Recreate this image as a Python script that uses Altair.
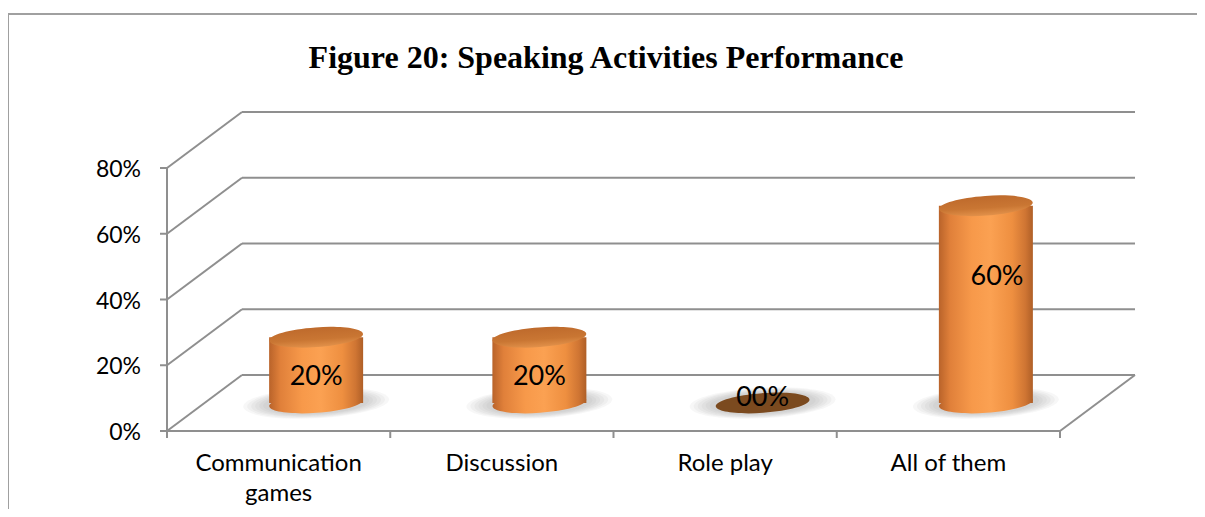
import altair as alt
import pandas as pd

# ---------------- data ----------------
categories = ["Communication games", "Discussion", "Role play", "All of them"]
category_text = ["Communication\ngames", "Discussion", "Role play", "All of them"]
values = [20, 20, 0, 60]
value_labels = ["20%", "20%", "00%", "60%"]
y_ticks = [0, 20, 40, 60, 80]
y_tick_labels = ["0%", "20%", "40%", "60%", "80%"]
title_text = "Figure 20: Speaking Activities Performance"

# ---------------- geometry (pixels -> data units) ----------------
W, H = 1189, 501
X0_PX, CAT_PX = 159, 223.25      # plot px of category origin, px per category
Y0_PX, PCT_PX = 423, 3.2875      # plot px of 0%, px per percent
DEPTH_DX, DEPTH_DY = 75, 56      # 3-D depth offset in px
CYL_W = 94                       # cylinder width px
ELL_RY = 0.21                    # ellipse aspect

x_dom = [-X0_PX / CAT_PX, (W - X0_PX) / CAT_PX]
y_dom = [-(H - Y0_PX) / PCT_PX, Y0_PX / PCT_PX]
ddx = DEPTH_DX / CAT_PX
ddy = DEPTH_DY / PCT_PX
n = len(categories)

xs = alt.Scale(domain=x_dom, nice=False, zero=False)
ys = alt.Scale(domain=y_dom, nice=False, zero=False)
X = lambda f: alt.X(f, type="quantitative", scale=xs, axis=None)
Y = lambda f: alt.Y(f, type="quantitative", scale=ys, axis=None)

GRID = "#8f8f8f"

# grid / frame lines
rows = []
for v in y_ticks:
    rows.append(dict(x=ddx, x2=n + ddx, y=v + ddy, y2=v + ddy))      # back wall line
    rows.append(dict(x=0, x2=ddx, y=v, y2=v + ddy))                  # side diagonal
    rows.append(dict(x=0, x2=-7 / CAT_PX, y=v, y2=v))                # y tick
rows.append(dict(x=0, x2=n, y=0, y2=0))                              # front floor edge
rows.append(dict(x=n, x2=n + ddx, y=0, y2=ddy))                      # right floor edge
rows.append(dict(x=0, x2=0, y=0, y2=y_ticks[-1]))                    # y axis
for i in range(n + 1):
    rows.append(dict(x=i, x2=i, y=0, y2=-7 / PCT_PX))                # x ticks
lines_df = pd.DataFrame(rows)

grid = alt.Chart(lines_df).mark_rule(color=GRID, strokeWidth=2).encode(
    x=X("x"), x2="x2", y=Y("y"), y2="y2"
)

# cylinders
hw = CYL_W / 2 / CAT_PX
cyl = pd.DataFrame({
    "cat": categories,
    "value": values,
    "label": value_labels,
    "cx": [i + 0.5 + ddx / 2 for i in range(n)],
})
cyl["base"] = ddy / 2
cyl["top"] = cyl["base"] + cyl["value"]
cyl["xl"] = cyl["cx"] - hw
cyl["xr"] = cyl["cx"] + hw
cyl["ly"] = [b + (1.2 + 0.76 * v - ddy / 2 if v > 0 else 1.6) for b, v in zip(cyl["base"], cyl["value"])]
cyl["lx"] = [c + (0.05 if v > 40 else 0.0) for c, v in zip(cyl["cx"], cyl["value"])]

k = 0.5523
r = ELL_RY
ellipse = (f"M -1 0 C -1 {-k*r} {-k} {-r} 0 {-r} C {k} {-r} 1 {-k*r} 1 0 "
           f"C 1 {k*r} {k} {r} 0 {r} C {-k} {r} -1 {k*r} -1 0 Z")

body_grad = alt.LinearGradient(
    gradient="linear", x1=0, x2=1, y1=0, y2=0,
    stops=[
        alt.GradientStop(color="#B9632A", offset=0),
        alt.GradientStop(color="#E0803A", offset=0.12),
        alt.GradientStop(color="#F7994A", offset=0.35),
        alt.GradientStop(color="#FBA152", offset=0.55),
        alt.GradientStop(color="#EE8F40", offset=0.78),
        alt.GradientStop(color="#CF7533", offset=0.92),
        alt.GradientStop(color="#AF5F27", offset=1),
    ],
)
top_grad = alt.LinearGradient(
    gradient="linear", x1=0, x2=0, y1=0, y2=1,
    stops=[
        alt.GradientStop(color="#BE6A2C", offset=0),
        alt.GradientStop(color="#C97633", offset=0.6),
        alt.GradientStop(color="#E2914A", offset=1),
    ],
)

base = alt.Chart(cyl)
shadows = []
for wpx in [146, 138, 130, 122, 114, 106]:
    shadows.append(
        base.mark_point(shape=ellipse, size=wpx * wpx, filled=True, fill="#707070",
                        opacity=0.06, strokeWidth=0, angle=357)
        .encode(x=X("cx"), y=Y("base"))
    )

pos = base.transform_filter("datum.value > 0")
bottom_ell = pos.mark_point(shape=ellipse, size=CYL_W * CYL_W, filled=True, fill=body_grad,
                            opacity=1, strokeWidth=0, angle=356).encode(x=X("cx"), y=Y("base"))
body = pos.mark_rect(fill=body_grad, strokeWidth=0).encode(
    x=X("xl"), x2="xr", y=Y("base"), y2="top")
top_ell = pos.mark_point(shape=ellipse, size=CYL_W * CYL_W, filled=True, fill=top_grad,
                         opacity=1, strokeWidth=0, angle=356).encode(x=X("cx"), y=Y("top"))
zero_ell = base.transform_filter("datum.value == 0").mark_point(
    shape=ellipse, size=CYL_W * CYL_W, filled=True, fill="#7B4A1F", opacity=1,
    strokeWidth=0, angle=356).encode(x=X("cx"), y=Y("top"))

labels = base.mark_text(font="Lato", fontSize=27, color="#000000", baseline="middle").encode(
    x=X("lx"), y=Y("ly"), text="label")

# axis labels
yt = pd.DataFrame({"v": y_ticks, "t": y_tick_labels, "x": 0})
ylab = alt.Chart(yt).mark_text(font="Lato", fontSize=23, align="right", baseline="middle",
                               dx=-26, dy=2, color="#000000").encode(
    x=X("x"), y=Y("v"), text="t")

ct = pd.DataFrame({"x": [i + 0.5 for i in range(n)], "y": 0, "t": category_text})
xlab = alt.Chart(ct).mark_text(font="Lato", fontSize=24, align="center", baseline="top",
                               dy=21, lineBreak="\n", lineHeight=30, color="#000000").encode(
    x=X("x"), y=Y("y"), text="t")

title = alt.Chart(pd.DataFrame({"t": [title_text]})).mark_text(
    font="Liberation Serif", fontSize=32, fontWeight="bold", color="#000000",
    align="center", baseline="middle").encode(
    x=alt.value(598), y=alt.value(50), text="t")

frame_top = alt.Chart(pd.DataFrame({"a": [0]})).mark_rule(color="#a0a0a0", strokeWidth=2).encode(
    x=alt.value(0), x2=alt.value(W), y=alt.value(6))
frame_left = alt.Chart(pd.DataFrame({"a": [0]})).mark_rule(color="#a0a0a0", strokeWidth=2).encode(
    x=alt.value(0), y=alt.value(6), y2=alt.value(H))

chart = alt.layer(
    frame_top, frame_left, grid, *shadows, bottom_ell, body, top_ell, zero_ell,
    labels, ylab, xlab, title
).properties(
    width=W, height=H, autosize=alt.AutoSizeParams(type="none"), padding=0,
    background="white"
).configure_view(stroke=None)

chart.save("out.html", embed_options={"renderer": "svg", "actions": False})
